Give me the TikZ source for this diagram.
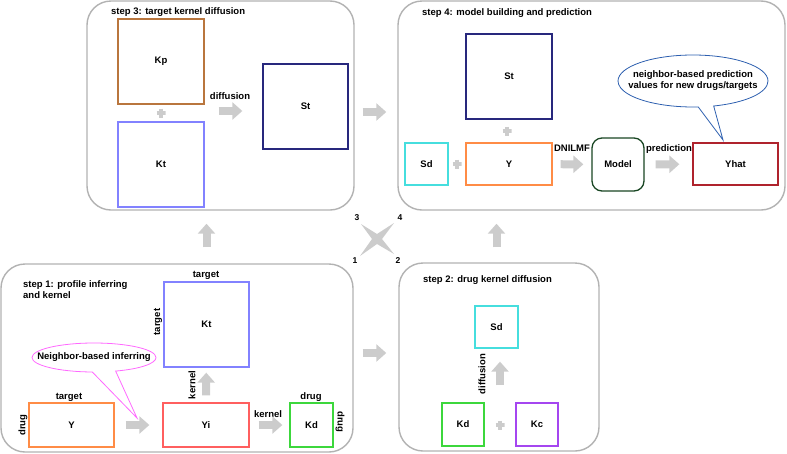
\documentclass[tikz,border=0pt]{standalone}
\usepackage{fontspec}
\setmainfont{Liberation Sans}
\usetikzlibrary{arrows.meta,shapes.callouts,shapes.geometric}

\definecolor{kpbrown}{RGB}{185,118,62}
\definecolor{ktblue}{RGB}{130,130,255}
\definecolor{stnavy}{RGB}{40,40,125}
\definecolor{sdcyan}{RGB}{70,222,222}
\definecolor{yorange}{RGB}{255,140,70}
\definecolor{yired}{RGB}{255,95,95}
\definecolor{kdgreen}{RGB}{60,215,60}
\definecolor{kcpurple}{RGB}{165,70,240}
\definecolor{modelgreen}{RGB}{25,70,35}
\definecolor{yhatred}{RGB}{175,35,45}
\definecolor{noteblue}{RGB}{45,95,175}
\definecolor{notepink}{RGB}{255,105,255}

\tikzset{
  every node/.style={font=\fontsize{9.5}{11}\selectfont\bfseries},
  panel/.style={draw=gray!60, line width=1.4pt, rounded corners=24pt, inner sep=0pt},
  matrixbox/.style={draw=#1, line width=1.3pt, inner sep=0pt, fill=white},
  bigarrow/.style={gray!40, line width=8pt, -{Triangle[length=10pt,width=17pt]}},
  plussign/.style={minimum size=9pt, inner sep=0pt,
    path picture={\draw[gray!40, line width=3.5pt]
      (path picture bounding box.north) -- (path picture bounding box.south)
      (path picture bounding box.west) -- (path picture bounding box.east);}},
}

\begin{document}
\begin{tikzpicture}[x=1pt, y=-1pt]
  \useasboundingbox (0,0) rectangle (787,453);

  % panels
  \node [panel, minimum width=267pt, minimum height=209pt] (step3) at (220.5,105.5) {};
  \node [panel, minimum width=387pt, minimum height=209pt] (step4) at (591.5,105.5) {};
  \node [panel, minimum width=352pt, minimum height=188pt] (step1) at (177,358) {};
  \node [panel, minimum width=200pt, minimum height=188pt] (step2) at (499,357) {};

  % headings
  \node [anchor=west, inner sep=0pt] (head3) at (111,12) {step 3: target kernel diffusion};
  \node [anchor=west, inner sep=0pt] (head4) at (422,13) {step 4: model building and prediction};
  \node [anchor=west, align=left, inner sep=0pt] (head1) at (23,289.5) {step 1: profile inferring\\and kernel};
  \node [anchor=west, inner sep=0pt] (head2) at (423,280) {step 2: drug kernel diffusion};

  % step 1
  \node [matrixbox=ktblue, minimum width=85pt, minimum height=85pt] (Kt1) at (206.5,324.5) {Kt};
  \node [matrixbox=yorange, minimum width=85pt, minimum height=44pt] (Y1) at (71.5,425) {Y};
  \node [matrixbox=yired, minimum width=86pt, minimum height=44pt] (Yi) at (206,425) {Yi};
  \node [matrixbox=kdgreen, minimum width=43pt, minimum height=44pt] (Kd1) at (311.5,425) {Kd};

  \node (targetKt) at (206,275) {target};
  \node [rotate=90] (targetKtside) at (158,322) {target};
  \node (targetY) at (69,397) {target};
  \node [rotate=90] (drugY) at (23,425) {drug};
  \node [rotate=90] (kernelup) at (192,385) {kernel};
  \node (kernelright) at (268,414) {kernel};
  \node (drugKd) at (311,397) {drug};
  \node [rotate=-90] (drugKdside) at (340,422) {drug};

  \draw [bigarrow, shorten <=11pt, shorten >=13pt] (Y1) -- (Yi);
  \draw [bigarrow, shorten <=7pt, shorten >=5pt] (Yi) -- (Kt1);
  \draw [bigarrow, shorten <=9pt, shorten >=7pt] (Yi) -- (Kd1);

  \node [ellipse callout, draw=notepink, line width=0.8pt, minimum width=124pt, minimum height=29pt,
    inner sep=0pt, callout pointer arc=22, callout absolute pointer={(137,418)},
    label={center:Neighbor-based inferring}] (note1) at (94,357.5) {};

  % step 2
  \node [matrixbox=sdcyan, minimum width=43pt, minimum height=42pt] (Sd2) at (496.5,327) {Sd};
  \node [matrixbox=kdgreen, minimum width=42pt, minimum height=43pt] (Kd2) at (463,424.5) {Kd};
  \node [matrixbox=kcpurple, minimum width=42pt, minimum height=43pt] (Kc) at (537,424.5) {Kc};
  \node [plussign] (plus2) at (500,425) {};
  \node [rotate=90] (diffusion2) at (482,374) {diffusion};
  \draw [bigarrow, shorten <=17pt, shorten >=13pt] (plus2 |- Kd2.north) -- (plus2 |- Sd2.south);

  % step 3
  \node [matrixbox=kpbrown, minimum width=86pt, minimum height=85pt] (Kp) at (161,61.5) {Kp};
  \node [matrixbox=ktblue, minimum width=86pt, minimum height=85pt] (Kt3) at (161,164.5) {Kt};
  \node [matrixbox=stnavy, minimum width=85pt, minimum height=85pt] (St3) at (305.5,106.5) {St};
  \node [plussign] (plus3) at (161,113) {};
  \node (diffusion3) at (230,96) {diffusion};
  \draw [bigarrow, shorten <=14pt, shorten >=20pt] ([yshift=2pt]plus3 -| Kp.east) -- ([yshift=2pt]plus3 -| St3.west);

  % step 4
  \node [matrixbox=stnavy, minimum width=86pt, minimum height=85pt] (St4) at (509,76.5) {St};
  \node [matrixbox=sdcyan, minimum width=43pt, minimum height=42pt] (Sd4) at (426.5,164) {Sd};
  \node [matrixbox=yorange, minimum width=86pt, minimum height=42pt] (Y4) at (509,164) {Y};
  \node [matrixbox=modelgreen, rounded corners=10pt, minimum width=52pt, minimum height=53pt] (Model) at (618,164.5) {Model};
  \node [matrixbox=yhatred, minimum width=85pt, minimum height=42pt] (Yhat) at (735.5,164) {Yhat};
  \node [plussign] (plus4a) at (507,131) {};
  \node [plussign] (plus4b) at (457,164) {};
  \node (dnilmf) at (572,148) {DNILMF};
  \node (prediction) at (669,149) {prediction};
  \draw [bigarrow, shorten <=8pt, shorten >=8pt] (Y4) -- (Model);
  \draw [bigarrow, shorten <=11pt, shorten >=13pt] (Model) -- (Yhat);

  \node [ellipse callout, draw=noteblue, line width=0.8pt, minimum width=150pt, minimum height=52pt,
    inner sep=0pt, callout pointer arc=12, callout absolute pointer={(723,140)},
    label={[align=center]center:neighbor-based prediction\\values for new drugs/targets}] (note4) at (693,81) {};

  % arrows between steps
  \draw [bigarrow, shorten <=16pt, shorten >=13pt] (Kt1.north |- step1.north) -- (Kt1.north |- step3.south);
  \draw [bigarrow, shorten <=9pt, shorten >=12pt] ([yshift=5pt]step1.east) -- ([yshift=5pt]step1.east -| step2.west);
  \draw [bigarrow, shorten <=15pt, shorten >=13pt] (Sd2.north |- step2.north) -- (Sd2.north |- step4.south);
  \draw [bigarrow, shorten <=8pt, shorten >=11pt] ([yshift=-6.5pt]step3.east) -- ([yshift=-6.5pt]step4.west);

  % order star
  \fill [gray!40] (361,224) -- (377,234) -- (394,223) -- (382,239) -- (394,254) -- (377,244) -- (360,256) -- (372,239) -- cycle;
  \foreach \l/\x/\y in {3/357/218, 4/400/218, 1/355/261, 2/398/261}
    \node [font=\fontsize{8.5}{10}\selectfont\bfseries] (order\l) at (\x,\y) {\l};

\end{tikzpicture}
\end{document}
